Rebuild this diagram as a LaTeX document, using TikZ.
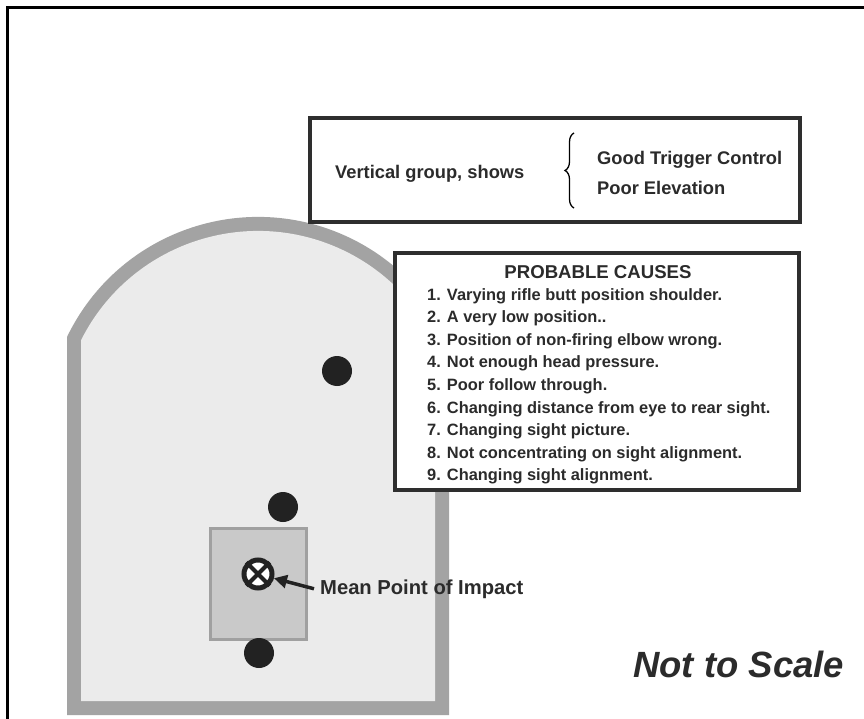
\documentclass[tikz,border=0pt]{standalone}
\usepackage{fontspec}
\setmainfont{Liberation Sans}
\usetikzlibrary{arrows.meta,decorations.pathreplacing}
\definecolor{band}{HTML}{A3A3A3}
\definecolor{inner}{HTML}{EBEBEB}
\definecolor{sqfill}{HTML}{C9C9C9}
\definecolor{sqline}{HTML}{A0A0A0}
\definecolor{ink}{HTML}{2B2B2B}
\definecolor{boxline}{HTML}{2E2E2E}
\definecolor{dotc}{HTML}{222222}
\begin{document}
\begin{tikzpicture}[x=1pt,y=-1pt,
  infobox/.style={draw=boxline,line width=4.5pt,fill=white,rectangle,inner sep=0pt},
  bigtxt/.style={font=\fontsize{18.3}{22}\selectfont\bfseries,text=ink,inner sep=0pt,anchor=base west},
  itemtxt/.style={font=\fontsize{16.4}{20}\selectfont\bfseries,text=ink,inner sep=0pt,anchor=base west},
  mpitxt/.style={font=\fontsize{20.2}{24}\selectfont\bfseries,inner sep=0pt,anchor=base west},
  shot/.style={circle,fill=dotc,minimum size=30pt,inner sep=0pt},
  pointer/.style={draw=dotc,line width=3.5pt,-{Triangle[length=13pt,width=13pt]}}]
\useasboundingbox (0,0) rectangle (864,719);
\fill[white] (0,0) rectangle (864,719);
% frame
\draw[black,line width=3pt] (7,719) -- (7,8) -- (864,8);
% target
\fill[band] (67,715) -- (67,337) arc[start angle=-154.3,end angle=-25.7,radius=212] -- (449,715) -- cycle;
\fill[inner] (81,701) -- (81,340.3) arc[start angle=-153.4,end angle=-26.6,radius=198] -- (435,701) -- cycle;
% MPI square
\node[draw=sqline,fill=sqfill,line width=2.5pt,minimum width=96pt,minimum height=111pt,inner sep=0pt] (sq) at (258.5,584) {};
% shots
\node[shot] (s1) at (337,371) {};
\node[shot] (s2) at (283,507) {};
\node[shot] (s3) at (259,653) {};
% mean point of impact symbol
\node[circle,draw=dotc,fill=white,line width=5pt,minimum size=28pt,inner sep=0pt] (mpi) at (258,574) {};
\draw[dotc,line width=4pt] (mpi.45) -- (mpi.225) (mpi.135) -- (mpi.-45);
\node[mpitxt,text=ink] (mpilabel) at (320,594) {Mean Point of Impact};
\draw[pointer] ([xshift=-6pt]mpilabel.west) -- (mpi);
% top box
\node[infobox,minimum width=490pt,minimum height=104pt] (topbox) at (555,170) {};
\node[bigtxt] (vg) at (335,179) {Vertical group, shows};
\node[bigtxt] (gt) at (597,165) {Good Trigger Control};
\node[bigtxt] (pe) at (597,195) {Poor Elevation};
\coordinate (bra) at (574,208);
\coordinate (brb) at (574,133);
\draw[black,line width=1.3pt,decorate,decoration={brace,amplitude=9pt}] (bra) -- (brb);
% probable causes box
\node[infobox,minimum width=404pt,minimum height=237pt] (causes) at (597,371.5) {};
\node[font=\fontsize{18.6}{22}\selectfont\bfseries,text=ink,inner sep=0pt,anchor=base] (pc) at (598,278) {PROBABLE CAUSES};
\foreach \t [count=\i] in {
  {1. Varying rifle butt position shoulder.},
  {2. A very low position..},
  {3. Position of non-firing elbow wrong.},
  {4. Not enough head pressure.},
  {5. Poor follow through.},
  {6. Changing distance from eye to rear sight.},
  {7. Changing sight picture.},
  {8. Not concentrating on sight alignment.},
  {9. Changing sight alignment.}}
  \node[itemtxt] (c\i) at (427,{300+(\i-1)*22.6}) {\t};
% not to scale
\node[font=\fontsize{36.5}{40}\selectfont\bfseries\itshape,text=ink,inner sep=0pt,anchor=base west] (nts) at (633,677) {Not to Scale};
\end{tikzpicture}
\end{document}
